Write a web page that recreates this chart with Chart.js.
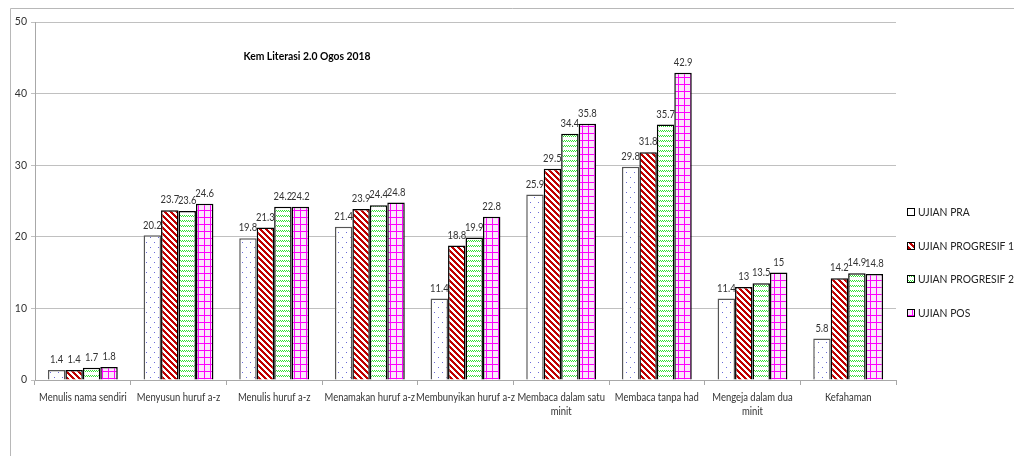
<!DOCTYPE html>
<html>
<head>
<meta charset="utf-8">
<script src="https://cdn.jsdelivr.net/npm/chart.js@4/dist/chart.umd.min.js"></script>
<style>
  html, body { margin: 0; padding: 0; background: #fff; }
  #wrap { width: 1014px; height: 456px; position: relative; }
</style>
</head>
<body>
<div id="wrap"><canvas id="barChart"></canvas></div>
<script>
// chart data
const categories = [
    'Menulis nama sendiri',
    'Menyusun huruf a-z',
    'Menulis huruf a-z',
    'Menamakan huruf a-z',
    'Membunyikan huruf a-z',
    ['Membaca dalam satu', 'minit'],
    'Membaca tanpa had',
    ['Mengeja dalam dua', 'minit'],
    'Kefahaman'
];
const seriesNames = ['UJIAN PRA', 'UJIAN PROGRESIF 1', 'UJIAN PROGRESIF 2', 'UJIAN POS'];
const ujianPra = [1.4, 20.2, 19.8, 21.4, 11.4, 25.9, 29.8, 11.4, 5.8];
const ujianProgresif1 = [1.4, 23.7, 21.3, 23.9, 18.8, 29.5, 31.8, 13, 14.2];
const ujianProgresif2 = [1.7, 23.6, 24.2, 24.4, 19.9, 34.4, 35.7, 13.5, 14.9];
const ujianPos = [1.8, 24.6, 24.2, 24.8, 22.8, 35.8, 42.9, 15, 14.8];
const yTicks = [0, 10, 20, 30, 40, 50];
const chartTitle = 'Kem Literasi 2.0 Ogos 2018';

// small canvas patterns for the bar fills
function makePattern(w, h, draw) {
    const c = document.createElement('canvas');
    c.width = w; c.height = h;
    const g = c.getContext('2d');
    g.fillStyle = '#ffffff';
    g.fillRect(0, 0, w, h);
    draw(g);
    return g.createPattern(c, 'repeat');
}

const dotPattern = makePattern(8, 10, g => {
    g.fillStyle = '#6a6ad8';
    g.fillRect(2, 2, 1, 1);
    g.fillRect(6, 7, 1, 1);
});

const stripePattern = makePattern(6, 6, g => {
    g.fillStyle = '#c00000';
    for (let y = 0; y < 6; y++) {
        for (let x = 0; x < 6; x++) {
            if (((x - y + 6) % 6) < 3) g.fillRect(x, y, 1, 1);
        }
    }
});

const wavePattern = makePattern(4, 5, g => {
    g.fillStyle = '#33dd33';
    g.fillRect(0, 0, 1, 1);
    g.fillRect(1, 1, 1, 1);
    g.fillRect(2, 0, 1, 1);
    g.fillRect(3, 1, 1, 1);
});

const gridPattern = makePattern(6, 7, g => {
    g.fillStyle = '#fbe6fb';
    g.fillRect(0, 0, 6, 7);
    g.fillStyle = '#ff00ff';
    g.fillRect(0, 0, 6, 1);
    g.fillRect(0, 0, 1, 7);
});

const fills = [dotPattern, stripePattern, wavePattern, gridPattern];
const borders = ['#555555', '#000000', '#000000', '#000000'];
const allSeries = [ujianPra, ujianProgresif1, ujianProgresif2, ujianPos];

const FONT = 'Lato, "Open Sans", sans-serif';
const SX = 0.9; // squeeze text a little, the original font is narrow

function drawText(ctx, text, x, y, align) {
    ctx.save();
    ctx.translate(x, y);
    ctx.scale(SX, 1);
    ctx.textAlign = align;
    ctx.fillText(text, 0, 0);
    ctx.restore();
}

// outer frame, title, value labels, category labels and the legend
const extras = {
    id: 'extras',
    beforeDraw(chart) {
        const ctx = chart.ctx;
        ctx.save();
        ctx.strokeStyle = '#b8b8b8';
        ctx.lineWidth = 1;
        ctx.beginPath();
        ctx.moveTo(10.5, 456);
        ctx.lineTo(10.5, 8.5);
        ctx.lineTo(1014, 8.5);
        ctx.stroke();
        ctx.restore();
    },
    afterDatasetsDraw(chart) {
        const ctx = chart.ctx;
        const area = chart.chartArea;
        ctx.save();

        // values above bars
        ctx.font = '10.5px ' + FONT;
        ctx.fillStyle = '#333333';
        ctx.textBaseline = 'bottom';
        chart.data.datasets.forEach((ds, i) => {
            chart.getDatasetMeta(i).data.forEach((bar, j) => {
                drawText(ctx, String(ds.data[j]), bar.x, bar.y - 5, 'center');
            });
        });

        // category labels
        ctx.font = '10.5px ' + FONT;
        ctx.textBaseline = 'middle';
        const xs = chart.scales.x;
        categories.forEach((cat, i) => {
            const lines = Array.isArray(cat) ? cat : [cat];
            lines.forEach((line, k) => {
                drawText(ctx, line, xs.getPixelForValue(i), area.bottom + 18 + k * 14, 'center');
            });
        });

        // title
        ctx.font = 'bold 11.5px ' + FONT;
        ctx.fillStyle = '#000000';
        drawText(ctx, chartTitle, 307, 56, 'center');

        // legend
        const legendY = [212, 246, 279, 313];
        ctx.font = '11.5px ' + FONT;
        seriesNames.forEach((name, i) => {
            const y = legendY[i];
            ctx.fillStyle = fills[i];
            ctx.fillRect(907, y - 4, 8, 8);
            ctx.strokeStyle = '#000000';
            ctx.lineWidth = 1;
            ctx.strokeRect(907.5, y - 3.5, 7, 7);
            ctx.fillStyle = '#222222';
            drawText(ctx, name, 918, y, 'left');
        });
        ctx.restore();
    }
};

new Chart(document.getElementById('barChart'), {
    type: 'bar',
    data: {
        labels: categories,
        datasets: allSeries.map((vals, i) => ({
            label: seriesNames[i],
            data: vals,
            backgroundColor: fills[i],
            borderColor: borders[i],
            borderWidth: 1.5,
            barPercentage: 1,
            categoryPercentage: 0.73
        }))
    },
    options: {
        responsive: true,
        maintainAspectRatio: false,
        animation: false,
        layout: { padding: { left: 0, right: 118, top: 22, bottom: 30 } },
        plugins: {
            legend: { display: false },
            tooltip: { enabled: false }
        },
        scales: {
            x: {
                offset: true,
                grid: {
                    display: true,
                    offset: true,
                    drawOnChartArea: false,
                    drawTicks: true,
                    tickLength: 5,
                    color: '#a8a8a8'
                },
                border: { color: '#a8a8a8', width: 1 },
                ticks: { display: false },
                afterFit: s => { s.height = 46; }
            },
            y: {
                min: 0,
                max: 50,
                afterBuildTicks: s => { s.ticks = yTicks.map(v => ({ value: v })); },
                grid: {
                    color: '#c0c0c0',
                    tickLength: 4
                },
                border: { color: '#a8a8a8', width: 1 },
                ticks: {
                    font: { family: FONT, size: 10.5 },
                    color: '#333333',
                    padding: 4
                },
                afterFit: s => { s.width = 35; }
            }
        }
    },
    plugins: [extras]
});
</script>
</body>
</html>
